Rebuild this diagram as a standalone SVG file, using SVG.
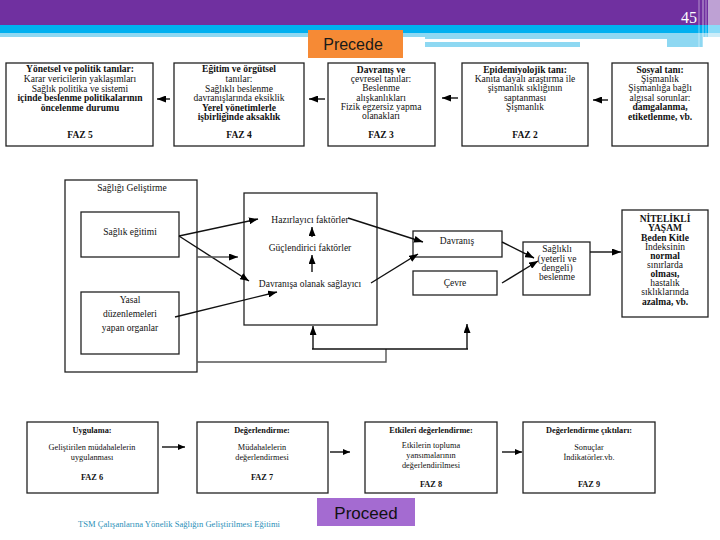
<svg xmlns="http://www.w3.org/2000/svg" width="720" height="540" viewBox="0 0 720 540">
<defs>
<style>
.box{fill:#fff;stroke:#222;stroke-width:1.3}
.t{font-family:'Liberation Serif','Times New Roman',serif;font-size:9.5px;fill:#111;text-anchor:middle}
.s{font-size:8.3px}
.b{font-weight:bold}
.c{fill:none;stroke:#111;stroke-width:1.4}
.g{fill:none;stroke:#555;stroke-width:1.4}
</style>
<marker id="ah" markerWidth="9" markerHeight="7" refX="9" refY="3.5" orient="auto" markerUnits="userSpaceOnUse"><path d="M0,0 L9,3.5 L0,7 z" fill="#000"/></marker>
<marker id="as" markerWidth="7" markerHeight="6" refX="7" refY="3" orient="auto" markerUnits="userSpaceOnUse"><path d="M0,0 L7,3 L0,6 z" fill="#000"/></marker>
</defs>
<rect width="720" height="540" fill="#fff"/>
<g id="header">
<rect x="0" y="0" width="720" height="25" fill="#7030A0"/>
<rect x="0" y="25" width="720" height="8" fill="#00B0F0"/>
<rect x="0" y="33" width="720" height="4" fill="#8ED8F2"/>
<rect x="425" y="33" width="278" height="14" fill="#8ED8F2"/>
<rect x="425" y="39" width="242" height="3" fill="#fff"/>
<rect x="580" y="42" width="87" height="5" fill="#fff"/>
<rect x="708" y="0" width="12" height="48" fill="#fff" opacity="0.55"/>
<line x1="699" y1="0" x2="699" y2="48" stroke="#fff" stroke-width="1.2" opacity="0.4"/>
<line x1="703" y1="0" x2="703" y2="48" stroke="#fff" stroke-width="1.5" opacity="0.4"/>
<line x1="706" y1="0" x2="706" y2="48" stroke="#fff" stroke-width="1.2" opacity="0.4"/>
<text x="697" y="23" font-family="Liberation Serif, serif" font-size="16" fill="#fff" text-anchor="end">45</text>
</g>
<g id="precede">
<rect x="308" y="30" width="95" height="28" fill="#F68A35"/>
<text x="353" y="50" font-family="Liberation Sans, Arial, sans-serif" font-size="16" fill="#1a1a1a" text-anchor="middle">Precede</text>
</g>
<g id="faz5">
<rect class="box" x="6" y="63" width="147" height="83"/>
<text class="t b" x="80" y="72">Yönetsel ve politik tanılar:</text>
<text class="t" x="80" y="82">Karar vericilerin yaklaşımları</text>
<text class="t" x="80" y="92">Sağlık politika ve sistemi</text>
<text class="t b" x="80" y="101">içinde beslenme politikalarının</text>
<text class="t b" x="80" y="111">öncelenme durumu</text>
<text class="t b" x="80" y="138">FAZ 5</text>
</g>
<g id="faz4">
<rect class="box" x="174" y="63" width="130" height="83"/>
<text class="t b" x="239" y="72">Eğitim ve örgütsel</text>
<text class="t" x="239" y="82">tanılar:</text>
<text class="t" x="239" y="92">Sağlıklı beslenme</text>
<text class="t" x="239" y="101">davranışlarında eksiklik</text>
<text class="t b" x="239" y="111">Yerel yönetimlerle</text>
<text class="t b" x="239" y="120">işbirliğinde aksaklık</text>
<text class="t b" x="239" y="138">FAZ 4</text>
</g>
<g id="faz3">
<rect class="box" x="328" y="63" width="107" height="83"/>
<text class="t b" x="381" y="73">Davranış ve</text>
<text class="t" x="381" y="82">çevresel tanılar:</text>
<text class="t" x="381" y="91">Beslenme</text>
<text class="t" x="381" y="101">alışkanlıkları</text>
<text class="t" x="381" y="110">Fizik egzersiz yapma</text>
<text class="t" x="381" y="119">olanakları</text>
<text class="t b" x="381" y="138">FAZ 3</text>
</g>
<g id="faz2">
<rect class="box" x="462" y="63" width="126" height="83"/>
<text class="t b" x="525" y="73">Epidemiyolojik tanı:</text>
<text class="t" x="525" y="82">Kanıta dayalı araştırma ile</text>
<text class="t" x="525" y="91">şişmanlık sıklığının</text>
<text class="t" x="525" y="101">saptanması</text>
<text class="t" x="525" y="110">Şişmanlık</text>
<text class="t b" x="525" y="138">FAZ 2</text>
</g>
<g id="faz1">
<rect class="box" x="612" y="63" width="96" height="83"/>
<text class="t b" x="660" y="73">Sosyal tanı:</text>
<text class="t" x="660" y="82">Şişmanlık</text>
<text class="t" x="660" y="91">Şişmanlığa bağlı</text>
<text class="t" x="660" y="101">algısal sorunlar:</text>
<text class="t b" x="660" y="110">damgalanma,</text>
<text class="t b" x="660" y="120">etiketlenme, vb.</text>
</g>
<g id="saglik-gelistirme">
<rect class="box" x="65" y="180" width="132" height="192"/>
<text class="t" x="132" y="191">Sağlığı Geliştirme</text>
</g>
<g id="saglik-egitimi">
<rect class="box" x="81" y="212" width="98" height="45"/>
<text class="t" x="130" y="235">Sağlık eğitimi</text>
</g>
<g id="yasal">
<rect class="box" x="81" y="292" width="98" height="62"/>
<text class="t" x="130" y="303">Yasal</text>
<text class="t" x="130" y="317">düzenlemeleri</text>
<text class="t" x="130" y="331">yapan organlar</text>
</g>
<g id="faktorler">
<rect class="box" x="244" y="193" width="133" height="132"/>
<text class="t" x="310" y="223">Hazırlayıcı faktörler</text>
<text class="t" x="310" y="251">Güçlendirici faktörler</text>
<text class="t" x="310" y="287">Davranışa olanak sağlayıcı</text>
</g>
<g id="davranis">
<rect class="box" x="413" y="231" width="89" height="26"/>
<text class="t" x="457" y="244">Davranış</text>
</g>
<g id="cevre">
<rect class="box" x="413" y="271" width="84" height="24"/>
<text class="t" x="455" y="286">Çevre</text>
</g>
<g id="saglikli-beslenme">
<rect class="box" x="523" y="242" width="67" height="53"/>
<text class="t" x="557" y="252">Sağlıklı</text>
<text class="t" x="557" y="262">(yeterli ve</text>
<text class="t" x="557" y="271">dengeli)</text>
<text class="t" x="557" y="280">beslenme</text>
</g>
<g id="nitelikli-yasam">
<rect class="box" x="622" y="210" width="86" height="107"/>
<text class="t b" x="665" y="222">NİTELİKLİ</text>
<text class="t b" x="665" y="231">YAŞAM</text>
<text class="t b" x="665" y="241">Beden Kitle</text>
<text class="t" x="665" y="250">İndeksinin</text>
<text class="t b" x="665" y="259">normal</text>
<text class="t" x="665" y="268">sınırlarda</text>
<text class="t b" x="665" y="277">olması,</text>
<text class="t" x="665" y="286">hastalık</text>
<text class="t" x="665" y="295">sıklıklarında</text>
<text class="t b" x="665" y="305">azalma, vb.</text>
</g>
<g id="faz6">
<rect class="box" x="27" y="422" width="131" height="71"/>
<text class="t s b" x="92" y="433">Uygulama:</text>
<text class="t s" x="92" y="450">Geliştirilen müdahalelerin</text>
<text class="t s" x="92" y="460">uygulanması</text>
<text class="t s b" x="92" y="480">FAZ 6</text>
</g>
<g id="faz7">
<rect class="box" x="197" y="422" width="131" height="71"/>
<text class="t s b" x="262" y="433">Değerlendirme:</text>
<text class="t s" x="262" y="450">Müdahalelerin</text>
<text class="t s" x="262" y="460">değerlendirmesi</text>
<text class="t s b" x="262" y="480">FAZ 7</text>
</g>
<g id="faz8">
<rect class="box" x="365" y="422" width="132" height="71"/>
<text class="t s b" x="431" y="433">Etkileri değerlendirme:</text>
<text class="t s" x="431" y="448">Etkilerin topluma</text>
<text class="t s" x="431" y="458">yansımalarının</text>
<text class="t s" x="431" y="468">değerlendirilmesi</text>
<text class="t s b" x="431" y="487">FAZ 8</text>
</g>
<g id="faz9">
<rect class="box" x="523" y="422" width="132" height="71"/>
<text class="t s b" x="589" y="433">Değerlendirme çıktıları:</text>
<text class="t s" x="589" y="450">Sonuçlar</text>
<text class="t s" x="589" y="460">İndikatörler.vb.</text>
<text class="t s b" x="589" y="487">FAZ 9</text>
</g>
<g id="proceed">
<rect x="317" y="498" width="98" height="28" fill="#A46BD1"/>
<text x="366" y="519" font-family="Liberation Sans, Arial, sans-serif" font-size="17" fill="#111" text-anchor="middle">Proceed</text>
</g>
<g id="footer">
<text x="78" y="527" font-family="Liberation Serif, serif" font-size="7.5" fill="#2A8FB8" textLength="202" lengthAdjust="spacingAndGlyphs">TSM Çalışanlarına Yönelik Sağlığın Geliştirilmesi Eğitimi</text>
</g>
<g id="connectors">
<line class="c" x1="170" y1="99" x2="157" y2="99" marker-end="url(#ah)"/>
<line class="c" x1="325" y1="99" x2="309" y2="99" marker-end="url(#ah)"/>
<line class="c" x1="458" y1="98" x2="442" y2="98" marker-end="url(#ah)"/>
<line class="c" x1="608" y1="100" x2="593" y2="100" marker-end="url(#ah)"/>
<line class="c" x1="179" y1="236" x2="258" y2="219" marker-end="url(#ah)"/>
<line class="c" x1="179" y1="236" x2="249" y2="281" marker-end="url(#ah)"/>
<line class="g" x1="197" y1="257" x2="238" y2="257" marker-end="url(#ah)"/>
<line class="c" x1="175" y1="317" x2="277" y2="292" marker-end="url(#ah)"/>
<line class="c" x1="312" y1="237" x2="312" y2="227" marker-end="url(#ah)"/>
<line class="c" x1="312" y1="272" x2="312" y2="255" marker-end="url(#ah)"/>
<line class="c" x1="348" y1="218" x2="423" y2="242" marker-end="url(#ah)"/>
<line class="c" x1="371" y1="283" x2="418" y2="254" marker-end="url(#ah)"/>
<line class="c" x1="502" y1="242" x2="534" y2="258" marker-end="url(#ah)"/>
<line class="c" x1="502" y1="283" x2="538" y2="261" marker-end="url(#ah)"/>
<line class="c" x1="590" y1="252" x2="621" y2="252" marker-end="url(#ah)"/>
<polyline class="g" points="197,362 386,362 386,349"/>
<line class="c" x1="312" y1="349" x2="468" y2="349"/>
<line class="c" x1="313" y1="349" x2="313" y2="326" marker-end="url(#ah)"/>
<line class="c" x1="467" y1="349" x2="467" y2="324" marker-end="url(#ah)"/>
<line class="c" x1="162" y1="447" x2="185" y2="447" marker-end="url(#as)"/>
<line class="c" x1="330" y1="452" x2="350" y2="452" marker-end="url(#as)"/>
<line class="c" x1="502" y1="452" x2="522" y2="452" marker-end="url(#as)"/>
</g>
</svg>
